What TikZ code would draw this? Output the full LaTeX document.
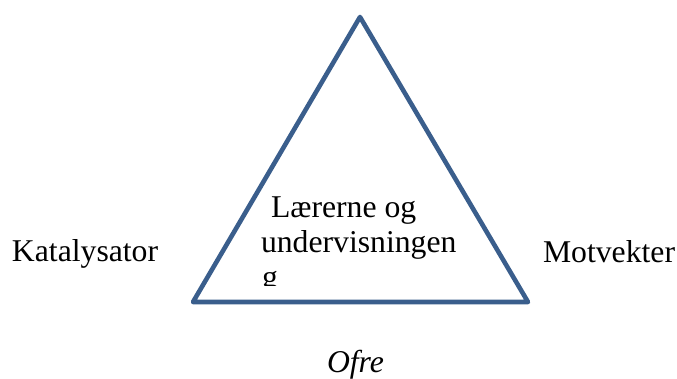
\documentclass[tikz,border=0pt]{standalone}
\usepackage{fontspec}
\setmainfont{Liberation Serif}
\definecolor{tri}{HTML}{3A5E8C}
\begin{document}
\begin{tikzpicture}[x=1pt,y=-1pt,
  lbl/.style={inner sep=0pt,outer sep=0pt,anchor=base west,font=\fontsize{31.7}{35}\selectfont},
  triline/.style={draw=tri,line width=4.6pt,line join=round,line cap=round}]
\useasboundingbox (0,0) rectangle (677,378);
\coordinate (top) at (360,17);
\coordinate (bl) at (193,302);
\coordinate (br) at (528,302);
\draw[triline] (top) -- (br) -- (bl) -- cycle;
\node[lbl] (kat) at (12,261) {Katalysator};
\node[lbl] (mot) at (543,262) {Motvekter};
\node[lbl,font=\fontsize{31.7}{35}\selectfont\itshape] (ofre) at (327,372) {Ofre};
\node[lbl] (l1) at (271,217) {Lærerne og};
\node[lbl] (l2) at (261,252) {undervisningen};
\begin{scope}
\clip (250,260) rectangle (300,285);
\node[lbl] (l3) at (262,287) {g};
\end{scope}
\end{tikzpicture}
\end{document}
